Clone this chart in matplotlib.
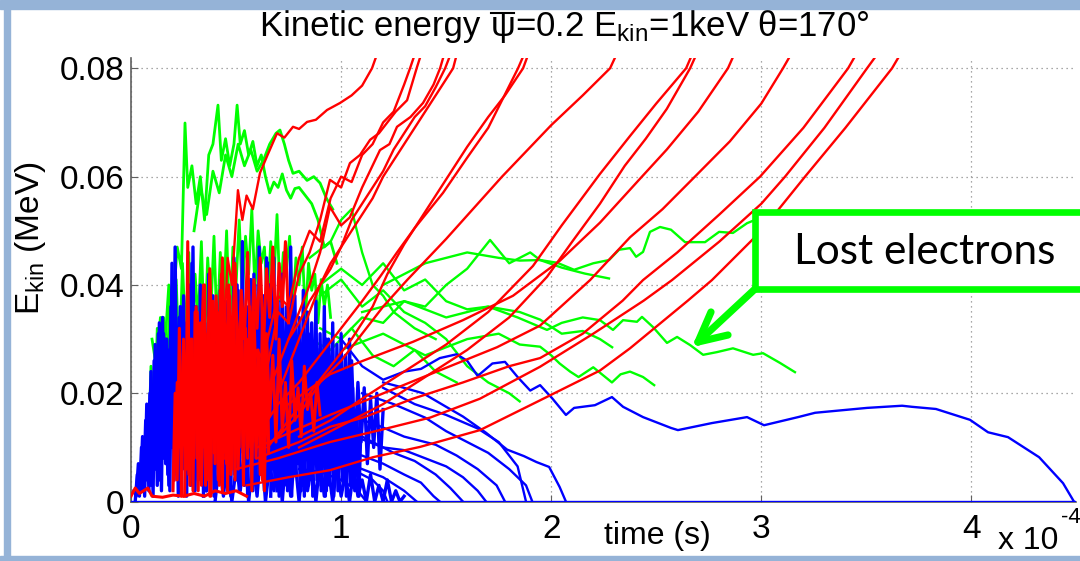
import matplotlib
matplotlib.use("Agg")
import matplotlib.pyplot as plt
from matplotlib.patches import Rectangle
from matplotlib.lines import Line2D

plt.rcParams['font.family'] = ['Liberation Sans', 'DejaVu Sans']
plt.rcParams['mathtext.fontset'] = 'custom'
plt.rcParams['mathtext.rm'] = 'Liberation Sans'
plt.rcParams['mathtext.it'] = 'Liberation Sans'
plt.rcParams['mathtext.bf'] = 'Liberation Sans:bold'

# ---------------- axis data ----------------
x_ticks = [0, 1, 2, 3, 4]
x_tick_labels = ['0', '1', '2', '3', '4']
y_ticks = [0, 0.02, 0.04, 0.06, 0.08]
y_tick_labels = ['0', '0.02', '0.04', '0.06', '0.08']
title_parts = ['Kinetic energy', 'ψ', r'=0.2 E$_{\mathrm{kin}}$=1keV θ=170°']
xlabel_text = 'time (s)'
ylabel_text = r'E$_{\mathrm{kin}}$ (MeV)'
callout_text = 'Lost electrons'

# ---------------- green traces (time in 1e-4 s, energy in MeV) ----------------
g_top1_t = [0.10,0.12,0.14,0.16,0.18,0.20,0.22,0.24,0.257,0.27,0.29,0.31,0.33,0.35,0.37,0.39,0.414,0.43,0.45,0.47,0.49,0.505,0.52,0.54,0.56,0.58,0.60,0.62,0.64,0.66,0.68,0.70,0.72,0.74,0.76,0.78,0.80,0.83,0.86,0.89,0.92,0.95,0.98]
g_top1_e = [0.030,0.025,0.034,0.028,0.040,0.036,0.047,0.043,0.0699,0.058,0.062,0.055,0.060,0.052,0.064,0.066,0.0732,0.063,0.067,0.062,0.066,0.0732,0.066,0.0685,0.064,0.0665,0.062,0.064,0.060,0.057,0.059,0.058,0.0605,0.0575,0.056,0.0578,0.058,0.0565,0.0550,0.052,0.047,0.048,0.044]
g_top2_t = [0.30,0.33,0.36,0.39,0.42,0.45,0.48,0.51,0.54,0.57,0.60,0.63,0.66,0.69,0.709,0.73,0.75,0.771,0.80,0.838,0.87,0.90,0.93,0.96]
g_top2_e = [0.050,0.058,0.053,0.061,0.057,0.064,0.060,0.066,0.062,0.065,0.061,0.063,0.066,0.068,0.0686,0.066,0.063,0.0606,0.061,0.0593,0.060,0.0588,0.056,0.054]
g_blob1_t = [0.080,0.095,0.110,0.125,0.140,0.155,0.170,0.185,0.200,0.215,0.230,0.245,0.260,0.275,0.290,0.305,0.320,0.335,0.350,0.365,0.380,0.395,0.410,0.425,0.440,0.455,0.470,0.485,0.500]
g_blob1_e = [0.005,0.025,0.012,0.032,0.018,0.034,0.022,0.038,0.028,0.041,0.025,0.044,0.030,0.046,0.027,0.042,0.033,0.048,0.029,0.045,0.035,0.049,0.031,0.046,0.036,0.050,0.032,0.047,0.038]
g_blob2_t = [0.500,0.515,0.530,0.545,0.560,0.575,0.590,0.605,0.620,0.635,0.650,0.665,0.680,0.695,0.710,0.725,0.740,0.755,0.770,0.785,0.800,0.815,0.830,0.845,0.860,0.875,0.890,0.905,0.920,0.935,0.950]
g_blob2_e = [0.040,0.052,0.038,0.049,0.042,0.054,0.039,0.050,0.044,0.047,0.036,0.048,0.041,0.053,0.037,0.046,0.043,0.049,0.035,0.045,0.040,0.047,0.034,0.044,0.039,0.042,0.033,0.041,0.036,0.040,0.034]
g_a_t = [0.9,1.0,1.1,1.2,1.3,1.4,1.5,1.6,1.709,1.8,1.9,1.947,2.028,2.109,2.2,2.275,2.323,2.375,2.404,2.437,2.470,2.518,2.570,2.637,2.732,2.799,2.865,2.932,2.97]
g_a_e = [0.032,0.030,0.034,0.033,0.037,0.036,0.040,0.043,0.0483,0.044,0.046,0.0446,0.0441,0.0428,0.044,0.0446,0.0465,0.0468,0.0452,0.0461,0.0498,0.0507,0.0502,0.0479,0.0479,0.0498,0.0496,0.0514,0.052]
g_b_t = [0.9,1.0,1.1,1.2,1.3,1.4,1.5,1.6,1.7,1.84,1.98,2.05,2.15,2.232,2.294,2.342,2.408,2.432,2.485,2.551,2.599,2.661,2.723,2.789,2.865,2.961,3.008,3.089,3.160]
g_b_e = [0.040,0.043,0.040,0.044,0.039,0.041,0.037,0.0355,0.036,0.034,0.0317,0.033,0.034,0.0335,0.0317,0.0335,0.0332,0.0341,0.0322,0.0293,0.0304,0.0289,0.0271,0.0276,0.0283,0.0271,0.0274,0.0256,0.0239]
g_c_t = [1.0,1.2,1.4,1.6,1.75,1.85,1.947,2.0,2.04,2.09,2.13,2.2,2.289,2.33,2.375,2.437,2.49]
g_c_e = [0.028,0.031,0.027,0.030,0.031,0.029,0.0286,0.027,0.0255,0.024,0.023,0.0248,0.022,0.0235,0.024,0.023,0.0215]
g_d_t = [1.1,1.3,1.5,1.7,1.85,1.947,2.05,2.15,2.232,2.29]
g_d_e = [0.035,0.037,0.034,0.036,0.035,0.0336,0.031,0.0315,0.030,0.0285]
g_f_t = [1.2,1.4,1.6,1.75,1.85,1.947,2.05,2.16,2.275]
g_f_e = [0.040,0.044,0.046,0.045,0.0445,0.0446,0.0432,0.0421,0.0412]
g_g_t = [0.9,1.0,1.1,1.2,1.3,1.4,1.5,1.6,1.7,1.8,1.85]
g_g_e = [0.038,0.041,0.036,0.039,0.035,0.033,0.030,0.025,0.022,0.020,0.0185]
g_h_t = [0.85,0.95,1.05,1.15,1.25,1.35,1.45,1.55]
g_h_e = [0.030,0.028,0.032,0.027,0.025,0.028,0.024,0.022]
g_i_t = [0.85,0.95,1.0,1.05,1.1,1.15,1.2,1.25,1.35,1.45]
g_i_e = [0.045,0.048,0.052,0.054,0.046,0.040,0.038,0.035,0.032,0.030]

# ---------------- blue traces ----------------
b_blob1_t = [0.02,0.03,0.04,0.05,0.06,0.07,0.08,0.09,0.10,0.11,0.12,0.13,0.14,0.15,0.16,0.17,0.18,0.19,0.20,0.21,0.22,0.23,0.24,0.25,0.26,0.27,0.28,0.29,0.30]
b_blob1_e = [0.000,0.005,0.001,0.010,0.002,0.015,0.004,0.020,0.003,0.026,0.006,0.031,0.004,0.034,0.009,0.030,0.003,0.036,0.010,0.047,0.005,0.034,0.012,0.038,0.002,0.035,0.008,0.044,0.004]
b_blob2_t = [0.015,0.025,0.035,0.045,0.055,0.065,0.075,0.085,0.095,0.105,0.115,0.125,0.135,0.145,0.155,0.165,0.175,0.185,0.195,0.205,0.215,0.225,0.235,0.245,0.255,0.265,0.275,0.285,0.295,0.305,0.315,0.325,0.335,0.345]
b_blob2_e = [0.002,0.001,0.007,0.002,0.012,0.001,0.018,0.002,0.024,0.001,0.029,0.003,0.033,0.002,0.031,0.007,0.028,0.002,0.044,0.004,0.030,0.001,0.036,0.006,0.032,0.001,0.040,0.003,0.047,0.002,0.033,0.008,0.037,0.001]
b_blob3_t = [0.30,0.31,0.32,0.33,0.34,0.35,0.36,0.37,0.38,0.39,0.40,0.41,0.42,0.43,0.44,0.45,0.46,0.47,0.48,0.49,0.50,0.51,0.52,0.53,0.54,0.55,0.56,0.57,0.58,0.59,0.60,0.61,0.62,0.63,0.64,0.65]
b_blob3_e = [0.010,0.036,0.004,0.040,0.012,0.033,0.002,0.042,0.008,0.038,0.003,0.035,0.011,0.041,0.005,0.037,0.002,0.034,0.009,0.045,0.004,0.039,0.010,0.048,0.003,0.036,0.012,0.041,0.002,0.040,0.008,0.047,0.005,0.038,0.011,0.044]
b_blob4_t = [0.355,0.365,0.375,0.385,0.395,0.405,0.415,0.425,0.435,0.445,0.455,0.465,0.475,0.485,0.495,0.505,0.515,0.525,0.535,0.545,0.555,0.565,0.575,0.585,0.595,0.605,0.615,0.625,0.635,0.645,0.655,0.665,0.675,0.685,0.695]
b_blob4_e = [0.002,0.030,0.006,0.034,0.001,0.028,0.007,0.039,0.003,0.032,0.008,0.036,0.001,0.031,0.005,0.040,0.002,0.029,0.009,0.035,0.001,0.033,0.006,0.042,0.003,0.030,0.007,0.037,0.002,0.045,0.004,0.032,0.008,0.036,0.002]
b_blob5_t = [0.65,0.66,0.67,0.68,0.69,0.70,0.71,0.72,0.73,0.74,0.75,0.76,0.77,0.78,0.79,0.80,0.81,0.82,0.83,0.84,0.85,0.86,0.87,0.88,0.89,0.90,0.91,0.92,0.93,0.94,0.95,0.96,0.97,0.98,0.99,1.00,1.01,1.02,1.03,1.04,1.05]
b_blob5_e = [0.004,0.040,0.010,0.045,0.006,0.037,0.012,0.042,0.003,0.036,0.009,0.047,0.005,0.038,0.011,0.034,0.002,0.039,0.008,0.035,0.004,0.033,0.010,0.037,0.003,0.031,0.007,0.036,0.002,0.030,0.009,0.033,0.004,0.029,0.006,0.031,0.003,0.027,0.008,0.030,0.005]
b_blob6_t = [0.665,0.675,0.685,0.695,0.705,0.715,0.725,0.735,0.745,0.755,0.765,0.775,0.785,0.795,0.805,0.815,0.825,0.835,0.845,0.855,0.865,0.875,0.885,0.895,0.905,0.915,0.925,0.935,0.945,0.955,0.965,0.975,0.985,0.995,1.005,1.015,1.025,1.035,1.045,1.055,1.065,1.075,1.085,1.095]
b_blob6_e = [0.001,0.025,0.003,0.030,0.001,0.022,0.004,0.028,0.002,0.033,0.001,0.026,0.005,0.030,0.002,0.024,0.001,0.029,0.003,0.031,0.001,0.023,0.004,0.027,0.002,0.025,0.001,0.028,0.003,0.022,0.001,0.026,0.002,0.020,0.004,0.024,0.001,0.019,0.003,0.021,0.002,0.017,0.001,0.015]
b_blob7_t = [0.055,0.065,0.075,0.085,0.095,0.105,0.115,0.125,0.135,0.145,0.155,0.165,0.175,0.185,0.195,0.205,0.215,0.225,0.235,0.245,0.255,0.265,0.275,0.285,0.295,0.305,0.315,0.325,0.335,0.345,0.355,0.365,0.375,0.385,0.395,0.405,0.415,0.425,0.435,0.445]
b_blob7_e = [0.002,0.010,0.004,0.014,0.003,0.019,0.006,0.024,0.004,0.027,0.008,0.030,0.005,0.028,0.010,0.032,0.006,0.029,0.012,0.031,0.007,0.033,0.013,0.030,0.006,0.034,0.011,0.029,0.005,0.032,0.012,0.030,0.007,0.033,0.014,0.028,0.006,0.031,0.010,0.027]
b_blob8_t = [0.455,0.465,0.475,0.485,0.495,0.505,0.515,0.525,0.535,0.545,0.555,0.565,0.575,0.585,0.595,0.605,0.615,0.625,0.635,0.645,0.655,0.665,0.675,0.685,0.695,0.705,0.715,0.725,0.735,0.745,0.755,0.765,0.775,0.785,0.795,0.805,0.815,0.825,0.835,0.845,0.855,0.865,0.875,0.885,0.895,0.905,0.915,0.925,0.935,0.945,0.955]
b_blob8_e = [0.006,0.028,0.012,0.031,0.005,0.026,0.014,0.030,0.008,0.033,0.004,0.027,0.011,0.029,0.007,0.032,0.013,0.025,0.005,0.030,0.010,0.028,0.006,0.031,0.012,0.026,0.004,0.029,0.009,0.027,0.005,0.030,0.011,0.025,0.007,0.028,0.003,0.026,0.010,0.029,0.006,0.024,0.012,0.027,0.004,0.025,0.009,0.023,0.005,0.026,0.008]
b_low_t = [0.40,0.42,0.44,0.46,0.48,0.50,0.52,0.54,0.56,0.58,0.60,0.62,0.64,0.66,0.68,0.70,0.72,0.74,0.76,0.78,0.80,0.82,0.84,0.86,0.88,0.90,0.92,0.94,0.96,0.98,1.00,1.02,1.04,1.06,1.08,1.10,1.12,1.14,1.16,1.18,1.20,1.22,1.24,1.26,1.28,1.30]
b_low_e = [0.000,0.007,0.001,0.009,0.000,0.006,0.002,0.010,0.000,0.008,0.001,0.011,0.000,0.007,0.002,0.009,0.000,0.010,0.001,0.008,0.000,0.009,0.002,0.007,0.000,0.008,0.001,0.006,0.000,0.007,0.001,0.005,0.000,0.006,0.001,0.004,0.000,0.005,0.000,0.003,0.000,0.004,0.000,0.002,0.000,0.001]
b_mid_t = [0.900,0.915,0.930,0.945,0.960,0.975,0.990,1.005,1.020,1.035,1.050,1.065,1.080,1.095,1.110,1.125,1.140,1.155,1.170,1.185,1.200]
b_mid_e = [0.028,0.012,0.030,0.010,0.025,0.014,0.027,0.008,0.024,0.012,0.026,0.009,0.022,0.011,0.021,0.007,0.019,0.010,0.020,0.006,0.017]
b_long_t = [1.0,1.1,1.2,1.3,1.38,1.47,1.55,1.6,1.65,1.72,1.78,1.84,1.9,1.947,2.004,2.070,2.109,2.208,2.289,2.342,2.437,2.570,2.603,2.765,2.932,3.013,3.175,3.256,3.503,3.670,3.717,3.831,3.993,4.079,4.174,4.322,4.436,4.488]
b_long_e = [0.030,0.025,0.0225,0.024,0.0245,0.0265,0.0272,0.026,0.0232,0.0255,0.0258,0.023,0.0205,0.0215,0.0191,0.0160,0.0173,0.0178,0.0193,0.0175,0.0156,0.0136,0.0132,0.0145,0.0156,0.0141,0.0156,0.0164,0.0173,0.0177,0.0175,0.0171,0.0151,0.0128,0.0119,0.0082,0.0034,0.0]
b_t1_t = [1.2,1.3,1.39,1.5,1.58,1.69,1.79,1.87,1.93,1.99,2.04,2.07]
b_t1_e = [0.022,0.021,0.020,0.0175,0.0157,0.0127,0.0096,0.0084,0.0073,0.0064,0.0027,0.0]
b_t2_t = [1.1,1.25,1.4,1.5,1.6,1.7,1.8,1.88,1.91]
b_t2_e = [0.020,0.018,0.0155,0.013,0.011,0.009,0.006,0.003,0.0]
b_t3_t = [1.0,1.15,1.3,1.45,1.55,1.65,1.74,1.78]
b_t3_e = [0.016,0.0145,0.012,0.0105,0.0085,0.006,0.003,0.0]
b_t4_t = [1.0,1.1,1.2,1.3,1.4,1.5,1.58,1.65,1.69]
b_t4_e = [0.012,0.0115,0.010,0.0095,0.008,0.0065,0.0045,0.002,0.0]
b_t5_t = [0.95,1.05,1.15,1.25,1.35,1.45,1.52,1.58]
b_t5_e = [0.014,0.013,0.011,0.009,0.0075,0.005,0.0025,0.0]
b_t6_t = [0.9,1.0,1.1,1.2,1.3,1.38,1.44,1.47]
b_t6_e = [0.010,0.009,0.0085,0.007,0.005,0.0035,0.001,0.0]
b_t7_t = [0.9,1.0,1.1,1.2,1.3,1.36]
b_t7_e = [0.008,0.0075,0.006,0.0045,0.002,0.0]
b_t8_t = [0.85,0.95,1.05,1.15,1.2,1.22]
b_t8_e = [0.008,0.007,0.006,0.004,0.002,0.0]
b_t9_t = [0.8,0.9,1.0,1.08,1.12]
b_t9_e = [0.006,0.0055,0.004,0.002,0.0]
b_t10_t = [1.2,1.35,1.5,1.65,1.75,1.84,1.88]
b_t10_e = [0.021,0.018,0.016,0.0135,0.011,0.0065,0.0]
b_zero_t = [0.0, 4.6]
b_zero_e = [0.0, 0.0]

# ---------------- red traces ----------------
r_blob1_t = [0.20,0.21,0.22,0.23,0.24,0.25,0.26,0.27,0.28,0.29,0.30,0.31,0.32,0.33,0.34,0.35,0.36,0.37,0.38,0.39,0.40,0.41,0.42,0.43,0.44,0.45,0.46,0.47,0.48,0.49,0.50]
r_blob1_e = [0.002,0.020,0.004,0.032,0.001,0.028,0.006,0.048,0.003,0.030,0.008,0.036,0.002,0.033,0.010,0.040,0.004,0.029,0.001,0.037,0.007,0.034,0.003,0.042,0.009,0.031,0.002,0.038,0.006,0.035,0.010]
r_blob2_t = [0.255,0.265,0.275,0.285,0.295,0.305,0.315,0.325,0.335,0.345,0.355,0.365,0.375,0.385,0.395,0.405,0.415,0.425,0.435,0.445,0.455,0.465,0.475,0.485,0.495,0.505,0.515,0.525,0.535,0.545,0.555,0.565,0.575,0.585,0.595,0.605,0.615,0.625,0.635,0.645,0.655]
r_blob2_e = [0.001,0.025,0.005,0.030,0.002,0.035,0.008,0.027,0.003,0.038,0.006,0.031,0.001,0.036,0.009,0.029,0.004,0.039,0.002,0.033,0.007,0.031,0.012,0.034,0.004,0.030,0.010,0.037,0.003,0.032,0.008,0.036,0.002,0.031,0.011,0.028,0.005,0.034,0.002,0.029,0.009]
r_blob3_t = [0.0,0.02,0.04,0.06,0.08,0.10,0.15,0.20,0.25,0.30,0.35,0.40,0.45,0.50,0.55]
r_blob3_e = [0.001,0.0025,0.0015,0.002,0.0025,0.001,0.0008,0.0012,0.001,0.0015,0.001,0.002,0.0015,0.002,0.001]
r_blob4_t = [0.450,0.465,0.480,0.495,0.510,0.525,0.540,0.555,0.570,0.585,0.600,0.615,0.630,0.645,0.660,0.675,0.690,0.705,0.720,0.735,0.750,0.765,0.780,0.795,0.810,0.825,0.840,0.855,0.870,0.885,0.900]
r_blob4_e = [0.008,0.030,0.012,0.026,0.006,0.033,0.015,0.028,0.010,0.035,0.014,0.024,0.009,0.031,0.016,0.027,0.011,0.030,0.013,0.022,0.010,0.026,0.015,0.021,0.012,0.025,0.017,0.020,0.013,0.022,0.016]
r_blob5_t = [0.300,0.315,0.330,0.345,0.360,0.375,0.390,0.405,0.420,0.435,0.450,0.465,0.480,0.495,0.510,0.525,0.540,0.555,0.570,0.585,0.600,0.615,0.630,0.645,0.660,0.675,0.690,0.705,0.720,0.735,0.750]
r_blob5_e = [0.015,0.035,0.020,0.040,0.018,0.043,0.022,0.038,0.025,0.045,0.020,0.040,0.027,0.044,0.023,0.039,0.030,0.046,0.026,0.041,0.032,0.045,0.028,0.043,0.034,0.047,0.030,0.044,0.036,0.048,0.033]
r_blob6_t = [0.205,0.220,0.235,0.250,0.265,0.280,0.295,0.310,0.325,0.340,0.355,0.370,0.385,0.400,0.415,0.430,0.445,0.460,0.475,0.490,0.505,0.520,0.535,0.550,0.565,0.580,0.595,0.610,0.625,0.640,0.655]
r_blob6_e = [0.004,0.022,0.010,0.030,0.006,0.026,0.014,0.033,0.008,0.029,0.003,0.034,0.012,0.027,0.007,0.036,0.015,0.031,0.005,0.028,0.011,0.033,0.006,0.030,0.013,0.035,0.008,0.027,0.004,0.031,0.010]
r1_t = [0.40,0.42,0.44,0.46,0.48,0.509,0.53,0.55,0.58,0.614,0.65,0.695,0.73,0.771,0.80,0.838,0.88,0.933,0.995,1.05,1.10,1.147,1.17]
r1_e = [0.020,0.035,0.028,0.045,0.040,0.0575,0.052,0.0565,0.054,0.0607,0.064,0.068,0.0672,0.0692,0.0688,0.0701,0.0705,0.0723,0.0736,0.075,0.0768,0.080,0.0825]
r2_t = [0.55,0.6,0.65,0.7,0.75,0.8,0.85,0.9,0.947,1.0,1.042,1.09,1.138,1.18,1.218,1.26,1.314,1.361,1.38]
r2_e = [0.018,0.028,0.025,0.035,0.033,0.042,0.046,0.052,0.0594,0.058,0.0625,0.064,0.0668,0.068,0.0699,0.072,0.0741,0.0802,0.0825]
r3_t = [0.6,0.65,0.7,0.75,0.8,0.85,0.9,0.95,1.0,1.05,1.1,1.15,1.2,1.25,1.3,1.328,1.35]
r3_e = [0.020,0.030,0.038,0.036,0.045,0.050,0.048,0.056,0.060,0.059,0.064,0.066,0.070,0.072,0.077,0.080,0.0825]
r4_t = [0.6,0.7,0.75,0.8,0.85,0.9,0.947,1.0,1.042,1.1,1.185,1.23,1.266,1.33,1.39,1.44,1.471,1.49]
r4_e = [0.015,0.025,0.030,0.035,0.040,0.046,0.0544,0.051,0.0525,0.058,0.0649,0.066,0.0692,0.071,0.0736,0.077,0.080,0.0825]
r5_t = [0.7,0.8,0.85,0.9,0.95,1.0,1.05,1.1,1.15,1.2,1.25,1.3,1.35,1.4,1.45,1.495,1.52]
r5_e = [0.020,0.030,0.035,0.040,0.044,0.047,0.052,0.055,0.058,0.061,0.065,0.068,0.071,0.073,0.0765,0.080,0.0825]
r6_t = [0.75,0.8,0.85,0.9,0.95,1.0,1.05,1.1,1.15,1.2,1.25,1.3,1.35,1.4,1.45,1.5,1.533,1.55]
r6_e = [0.030,0.033,0.037,0.040,0.043,0.047,0.050,0.053,0.056,0.060,0.063,0.066,0.069,0.072,0.075,0.078,0.080,0.0825]
r7_t = [0.6,0.7,0.8,0.9,1.0,1.1,1.185,1.266,1.35,1.485,1.6,1.7,1.842,1.87]
r7_e = [0.012,0.018,0.022,0.027,0.032,0.037,0.0415,0.046,0.0505,0.057,0.0635,0.069,0.080,0.0825]
r8_t = [0.65,0.75,0.85,0.95,1.05,1.15,1.22,1.3,1.4,1.5,1.6,1.7,1.78,1.866,1.89]
r8_e = [0.010,0.015,0.020,0.025,0.030,0.036,0.042,0.0475,0.0535,0.0595,0.0655,0.071,0.075,0.080,0.0825]
r9_t = [0.7,0.8,0.9,1.0,1.1,1.2,1.314,1.5,1.766,2.0,2.15,2.28,2.31]
r9_e = [0.012,0.016,0.022,0.026,0.031,0.036,0.0409,0.0485,0.060,0.0695,0.075,0.080,0.0825]
r10_t = [0.8,0.95,1.1,1.3,1.5,1.7,1.913,2.05,2.232,2.375,2.5,2.642,2.67]
r10_e = [0.012,0.015,0.019,0.024,0.029,0.035,0.0435,0.051,0.0605,0.0675,0.0735,0.080,0.0825]
r11_t = [0.8,1.0,1.2,1.4,1.6,1.8,1.98,2.1,2.232,2.35,2.45,2.55,2.661,2.69]
r11_e = [0.010,0.014,0.018,0.023,0.028,0.034,0.0415,0.048,0.055,0.062,0.067,0.0725,0.080,0.0825]
r12_t = [0.75,0.947,1.104,1.342,1.58,1.818,2.042,2.232,2.42,2.55,2.7,2.841,2.87]
r12_e = [0.018,0.0235,0.026,0.0295,0.0335,0.038,0.0445,0.0515,0.0595,0.065,0.072,0.080,0.0825]
r13_t = [0.6,0.8,0.947,1.138,1.423,1.742,1.947,2.185,2.375,2.53,2.684,2.85,3.0,3.103,3.14]
r13_e = [0.010,0.0135,0.016,0.019,0.0235,0.0285,0.0325,0.0409,0.0488,0.054,0.060,0.0665,0.0735,0.080,0.0825]
r14_t = [0.6,0.8,0.947,1.104,1.342,1.58,1.80,1.947,2.15,2.34,2.437,2.6,2.8,2.994,3.2,3.413,3.45]
r14_e = [0.008,0.011,0.0138,0.0155,0.019,0.022,0.025,0.0265,0.031,0.0371,0.0409,0.046,0.053,0.060,0.069,0.080,0.0825]
r15_t = [0.5,0.7,0.947,1.185,1.423,1.661,1.947,2.2,2.44,2.575,2.8,3.0,3.113,3.3,3.503,3.55]
r15_e = [0.006,0.008,0.011,0.0132,0.0155,0.019,0.0249,0.031,0.0371,0.0409,0.048,0.055,0.060,0.069,0.080,0.0825]
r16_t = [0.55,0.75,0.947,1.152,1.376,1.661,1.947,2.232,2.375,2.65,2.765,3.0,3.208,3.4,3.622,3.66]
r16_e = [0.003,0.0045,0.0058,0.0082,0.0101,0.0132,0.0187,0.0242,0.0283,0.0371,0.0409,0.050,0.060,0.069,0.080,0.0825]

green_noisy = [(g_top1_t, g_top1_e), (g_top2_t, g_top2_e), (g_blob1_t, g_blob1_e), (g_blob2_t, g_blob2_e)]
green_series = [(g_a_t, g_a_e), (g_b_t, g_b_e), (g_c_t, g_c_e), (g_d_t, g_d_e), (g_f_t, g_f_e),
                (g_g_t, g_g_e), (g_h_t, g_h_e), (g_i_t, g_i_e)]
blue_noisy = [(b_blob1_t, b_blob1_e), (b_blob2_t, b_blob2_e), (b_blob3_t, b_blob3_e), (b_blob4_t, b_blob4_e),
              (b_blob5_t, b_blob5_e), (b_blob6_t, b_blob6_e), (b_blob7_t, b_blob7_e), (b_blob8_t, b_blob8_e),
              (b_low_t, b_low_e), (b_mid_t, b_mid_e)]
blue_series = [(b_long_t, b_long_e), (b_t1_t, b_t1_e), (b_t2_t, b_t2_e), (b_t3_t, b_t3_e), (b_t4_t, b_t4_e),
               (b_t5_t, b_t5_e), (b_t6_t, b_t6_e), (b_t7_t, b_t7_e), (b_t8_t, b_t8_e), (b_t9_t, b_t9_e),
               (b_t10_t, b_t10_e), (b_zero_t, b_zero_e)]
red_noisy = [(r_blob1_t, r_blob1_e), (r_blob2_t, r_blob2_e), (r_blob3_t, r_blob3_e), (r_blob4_t, r_blob4_e),
             (r_blob5_t, r_blob5_e), (r_blob6_t, r_blob6_e)]
red_series = [(r1_t, r1_e), (r2_t, r2_e), (r3_t, r3_e), (r4_t, r4_e), (r5_t, r5_e),
              (r6_t, r6_e), (r7_t, r7_e), (r8_t, r8_e), (r9_t, r9_e), (r10_t, r10_e), (r11_t, r11_e),
              (r12_t, r12_e), (r13_t, r13_e), (r14_t, r14_e), (r15_t, r15_e), (r16_t, r16_e)]

# ---------------- figure ----------------
W, H = 1080, 561
fig = plt.figure(figsize=(W / 100, H / 100), dpi=100)
fig.patch.set_facecolor('white')

def fx(px):
    return px / W

def fy(py):
    return 1 - py / H

ax = fig.add_axes([fx(131), fy(501.6), fx(1076.5) - fx(131), fy(58) - fy(501.6)])
ax.set_facecolor('white')

def draw(series, color, lw, z):
    for t, e in series:
        n = min(len(t), len(e))
        ax.plot(t[:n], e[:n], color=color, lw=lw, zorder=z, solid_joinstyle='round')

draw(green_noisy, '#00FF00', 2.0, 3)
draw(green_series, '#00FF00', 1.7, 3)
draw(blue_noisy, '#0000FF', 2.4, 4)
draw(blue_series, '#0000FF', 1.7, 4)
draw(red_noisy, '#FF0000', 2.2, 5)
draw(red_series, '#FF0000', 1.7, 5)

ax.set_xlim(0, 4.5)
ax.set_ylim(0, 0.0819)
ax.set_xticks(x_ticks)
ax.set_xticklabels(x_tick_labels)
ax.set_yticks(y_ticks)
ax.set_yticklabels(y_tick_labels)
ax.grid(True, linestyle=(0, (1, 3)), color='#8c8c8c', lw=0.9, zorder=0)
ax.set_axisbelow(True)
for s in ['top', 'right']:
    ax.spines[s].set_visible(False)
for s in ['left', 'bottom']:
    ax.spines[s].set_color('#606060')
    ax.spines[s].set_linewidth(1.2)
ax.tick_params(axis='both', direction='in', length=5, color='#606060', labelsize=24)
ax.tick_params(axis='x', pad=9)
ax.tick_params(axis='y', pad=5)

# title in three pieces so that the bar over psi can be placed
renderer = fig.canvas.get_renderer()
fs_title = 25
title_base = fy(36)
pieces = [fig.text(0, title_base, p, fontsize=fs_title, ha='left', va='baseline') for p in title_parts]
widths = [p.get_window_extent(renderer).width for p in pieces]
space_px = fs_title * 100 / 72 * 0.278
total = widths[0] + space_px + widths[1] + widths[2]
x_start = 565 - total / 2
xs = [x_start, x_start + widths[0] + space_px, x_start + widths[0] + space_px + widths[1]]
for p, xp in zip(pieces, xs):
    p.set_x(fx(xp))
fig.lines.append(Line2D([fx(xs[1] + 1), fx(xs[1] + widths[1] - 1)], [fy(12.5), fy(12.5)],
                        transform=fig.transFigure, color='black', lw=1.5, zorder=12))

fig.text(fx(31), fy(238), ylabel_text, ha='center', va='center', rotation=90, fontsize=24)
fig.text(fx(657), fy(544), xlabel_text, ha='center', va='baseline', fontsize=23)
fig.text(fx(998), fy(549), 'x 10', ha='left', va='baseline', fontsize=23)
fig.text(fx(1061), fy(523), '-4', ha='left', va='baseline', fontsize=16)

# slide frame
frame_c = '#95B3D7'
fig.patches.append(Rectangle((fx(0), fy(9)), 1, fy(0) - fy(9), transform=fig.transFigure, color=frame_c, zorder=10))
fig.patches.append(Rectangle((fx(4), 0), fx(10) - fx(4), 1, transform=fig.transFigure, color=frame_c, zorder=10))
fig.patches.append(Rectangle((0, 0), 1, fy(555.5), transform=fig.transFigure, color=frame_c, zorder=10))

# callout
green = '#00FF00'
fig.patches.append(Rectangle((fx(755), fy(289)), fx(1100) - fx(755), fy(212) - fy(289), transform=fig.transFigure,
                             facecolor='white', edgecolor=green, lw=4.8, zorder=20, clip_on=False))
fig.text(fx(925), fy(252), callout_text, ha='center', va='center', fontsize=30.5, family='Lato', zorder=21)
for (x0, y0, x1, y1) in [(755, 289, 698, 342), (698, 342, 711, 312), (698, 342, 728, 335)]:
    fig.lines.append(Line2D([fx(x0), fx(x1)], [fy(y0), fy(y1)], transform=fig.transFigure, color=green,
                            lw=5.2, solid_capstyle='round', zorder=22))

fig.savefig('out.png', dpi=100)
